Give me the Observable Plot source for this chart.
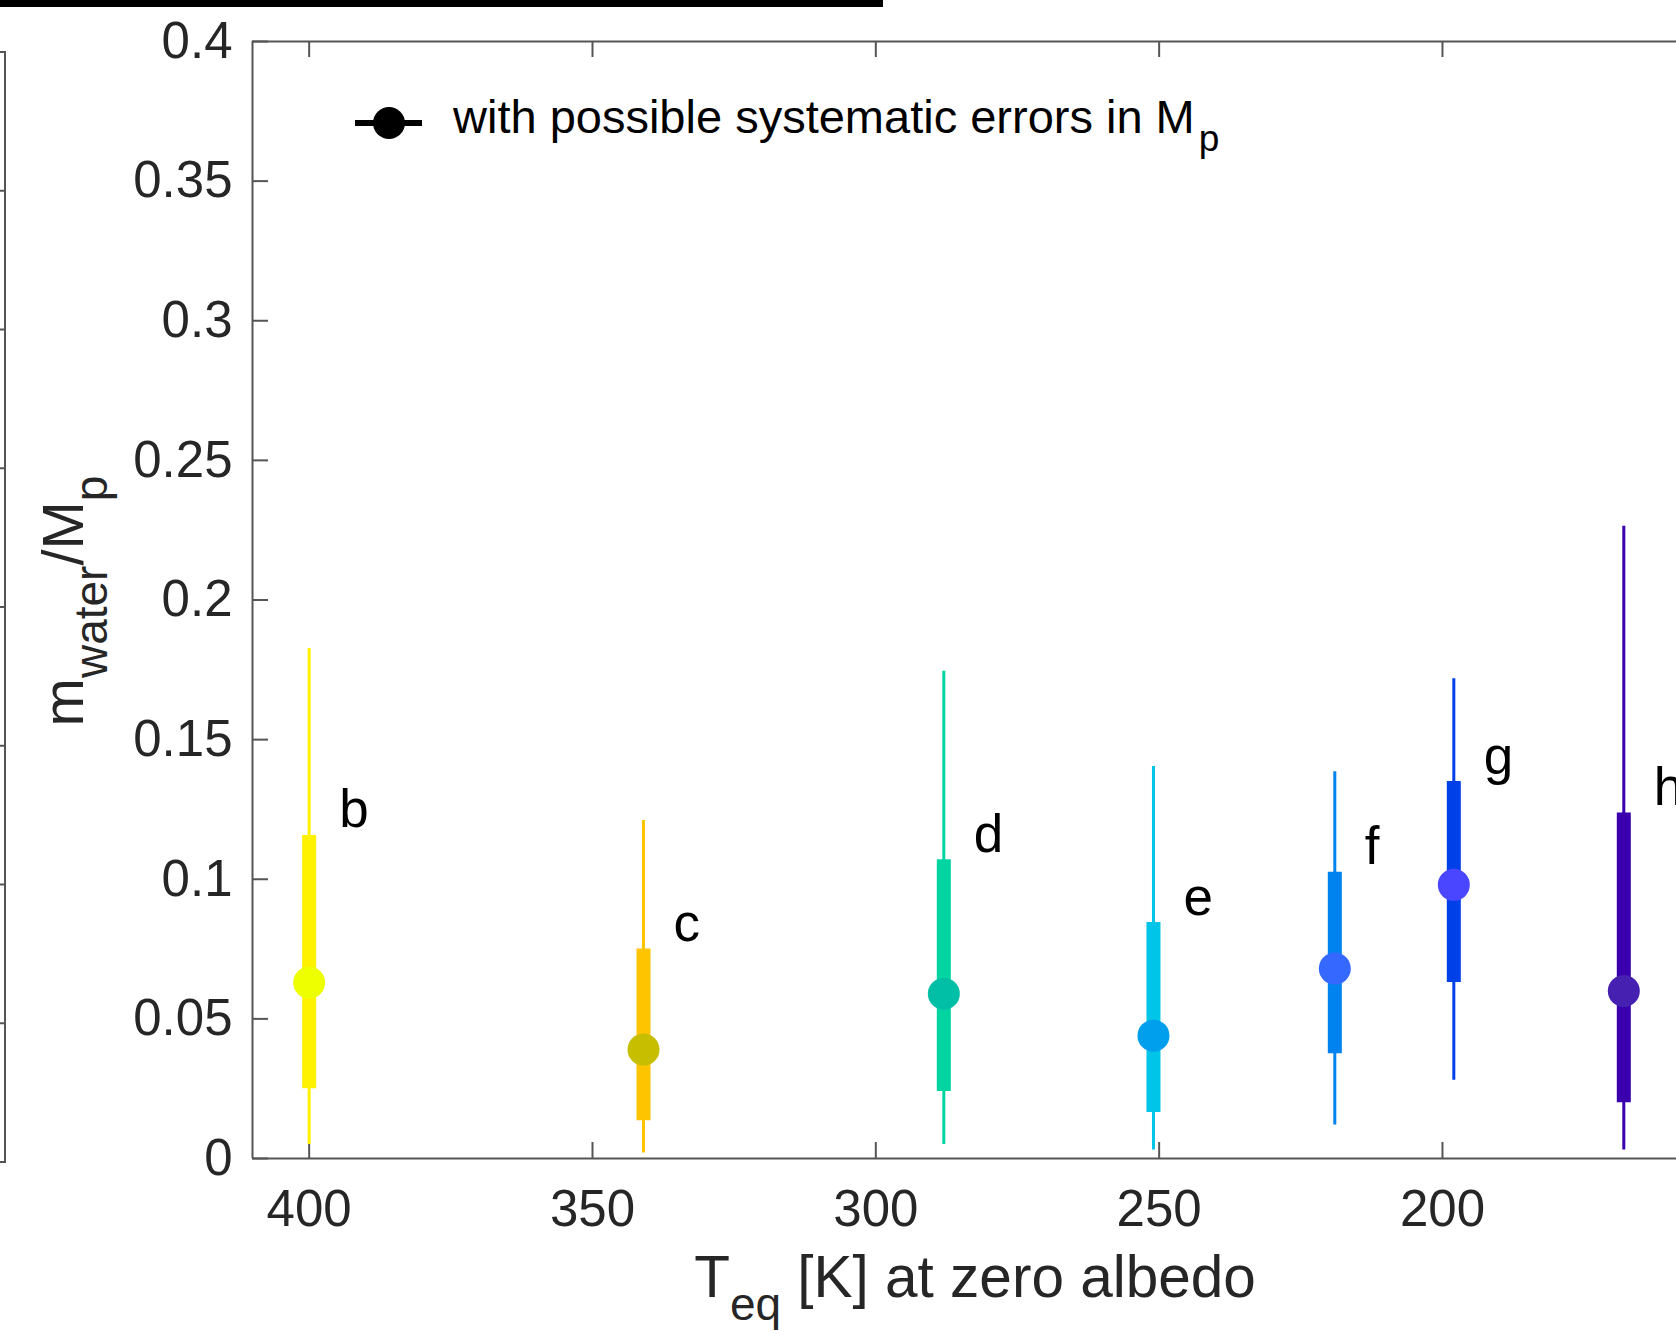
<!DOCTYPE html>
<html><head><meta charset="utf-8">
<script src="https://cdn.jsdelivr.net/npm/d3@7"></script>
<script src="https://cdn.jsdelivr.net/npm/@observablehq/plot@0.6"></script>
<style>
html,body{margin:0;padding:0;background:#fff;}
#chart{position:relative;width:1676px;height:1335px;overflow:hidden;}
</style></head><body><div id="chart"></div>
<script>
// ---- data ----
const planets = ["b", "c", "d", "e", "f", "g", "h"];
const teq = [400, 341, 288, 251, 219, 198, 168];
const waterFrac = [0.063, 0.039, 0.059, 0.044, 0.068, 0.098, 0.060];
const innerLo = [0.025, 0.0135, 0.024, 0.0165, 0.0375, 0.063, 0.020];
const innerHi = [0.1157, 0.075, 0.107, 0.0845, 0.1025, 0.135, 0.1237];
const outerLo = [0.005, 0.002, 0.005, 0.003, 0.012, 0.028, 0.003];
const outerHi = [0.1826, 0.121, 0.1745, 0.1404, 0.1385, 0.1718, 0.2264];
const xTicks = [400, 350, 300, 250, 200];
const yTicks = [0, 0.05, 0.1, 0.15, 0.2, 0.25, 0.3, 0.35, 0.4];
const neighborTicks = [0.05, 0.1, 0.15, 0.2, 0.25, 0.3, 0.35];
const legendText = "with possible systematic errors in M";
const legendSub = "p";
const xLabelParts = ["T", "eq", " [K] at zero albedo"];
const yLabelParts = ["m", "water", "/M", "p"];

// ---- styles ----
const barColors = ["#fff200", "#ffc400", "#00d4a0", "#00c4e8", "#0083ee", "#0040e8", "#3a00ae"];
const dotColors = ["#eeff00", "#c8be00", "#00bfa6", "#009fee", "#3468ff", "#4a46ff", "#4620b0"];

const rows = planets.map((p, i) => ({
  planet: p, teq: teq[i], mid: waterFrac[i],
  lo: innerLo[i], hi: innerHi[i], lo2: outerLo[i], hi2: outerHi[i],
  bar: barColors[i], dot: dotColors[i]
}));

const W = 1676, H = 1335, mL = 252, mT = 41, mB = 177, mR = 0;
const fw = W - mL - mR, fh = H - mT - mB;
const axisColor = "#555";
const tickLen = 16;
const font = "'Liberation Sans', Arial, Helvetica, sans-serif";

const chart = Plot.plot({
  width: W, height: H,
  marginLeft: mL, marginRight: mR, marginTop: mT, marginBottom: mB,
  style: {fontFamily: font, background: "#fff", color: "#262626", fontSize: "51px"},
  x: {domain: [410, 158.7]},
  y: {domain: [0, 0.4]},
  marks: [
    Plot.ruleY([0, 0.4], {stroke: axisColor, strokeWidth: 2}),
    Plot.ruleX([410], {stroke: axisColor, strokeWidth: 2}),
    Plot.tickY(yTicks, {y: d => d, insetRight: fw - tickLen, stroke: axisColor, strokeWidth: 2}),
    Plot.tickX(xTicks, {x: d => d, insetTop: fh - tickLen, stroke: axisColor, strokeWidth: 2}),
    Plot.tickX(xTicks, {x: d => d, insetBottom: fh - tickLen, stroke: axisColor, strokeWidth: 2}),
    Plot.axisY(yTicks, {tickSize: 0, tickPadding: 20, fontSize: 51, label: null, tickFormat: d3.format("~g")}),
    Plot.axisX(xTicks, {tickSize: 0, tickPadding: 31, fontSize: 51, label: null, tickFormat: d3.format("d")}),
    Plot.ruleX(rows, {x: "teq", y1: "lo2", y2: "hi2", stroke: "bar", strokeWidth: 3}),
    Plot.ruleX(rows, {x: "teq", y1: "lo", y2: "hi", stroke: "bar", strokeWidth: 14}),
    Plot.dot(rows, {x: "teq", y: "mid", fill: "dot", r: 16, stroke: null}),
    Plot.text(rows, {x: "teq", y: "hi", text: "planet", dx: 30, dy: -8, textAnchor: "start",
      lineAnchor: "bottom", fontSize: 53, fill: "#000"})
  ]
});

const svg = d3.select(chart);

// x label
const xl = svg.append("text").attr("x", 975).attr("y", 1297).attr("text-anchor", "middle")
  .attr("font-family", font).attr("font-size", 58.5).attr("fill", "#262626");
xl.append("tspan").text(xLabelParts[0]);
xl.append("tspan").attr("font-size", 46).attr("dy", 23).text(xLabelParts[1]);
xl.append("tspan").attr("dy", -23).text(xLabelParts[2]);

// y label
const yl = svg.append("text").attr("transform", "translate(83,601) rotate(-90)").attr("text-anchor", "middle")
  .attr("font-family", font).attr("font-size", 58).attr("fill", "#262626");
yl.append("tspan").text(yLabelParts[0]);
yl.append("tspan").attr("font-size", 46).attr("dy", 24).text(yLabelParts[1]);
yl.append("tspan").attr("dy", -24).text(yLabelParts[2]);
yl.append("tspan").attr("font-size", 46).attr("dy", 24).text(yLabelParts[3]);

// legend
const lg = svg.append("g");
lg.append("line").attr("x1", 355).attr("x2", 422).attr("y1", 123).attr("y2", 123)
  .attr("stroke", "#000").attr("stroke-width", 6);
lg.append("circle").attr("cx", 389).attr("cy", 123).attr("r", 16).attr("fill", "#000");
const lt = lg.append("text").attr("x", 453).attr("y", 133).attr("text-anchor", "start")
  .attr("font-family", font).attr("font-size", 47).attr("fill", "#000");
lt.append("tspan").text(legendText);
lt.append("tspan").attr("font-size", 37).attr("dx", 4).attr("dy", 18).text(legendSub);

// cropped neighbouring panel edge and top bar
const ny = d3.scaleLinear([0, 0.4], [1162, 52]);
const ng = svg.append("g").attr("stroke", axisColor).attr("stroke-width", 2).attr("fill", "none");
ng.append("path").attr("d", `M0,${ny(0.4)}H5V${ny(0)}H0`);
ng.selectAll("line.nt").data(neighborTicks).join("line")
  .attr("x1", 0).attr("x2", 5).attr("y1", d => ny(d)).attr("y2", d => ny(d));
svg.append("rect").attr("x", 0).attr("y", 0).attr("width", 883).attr("height", 7).attr("fill", "#000");

document.getElementById("chart").appendChild(chart);
</script>
</body></html>
